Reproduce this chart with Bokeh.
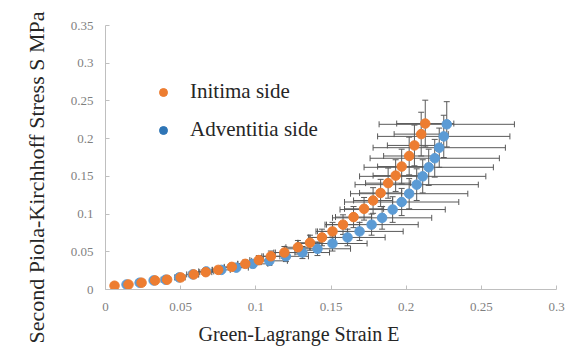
import math
from bokeh.plotting import figure
from bokeh.models import (ColumnDataSource, Whisker, TeeHead, FixedTicker, Legend,
                          LegendItem, Range1d, Title)
from bokeh.embed import file_html
from bokeh.resources import INLINE

# ---- data ----
intima_strain = [0.006, 0.0153, 0.024, 0.033, 0.041, 0.050, 0.0587, 0.0667, 0.075, 0.084,
                 0.093, 0.102, 0.110, 0.119, 0.128, 0.136, 0.144, 0.151, 0.158, 0.165,
                 0.172, 0.178, 0.183, 0.188, 0.193, 0.197, 0.202, 0.2055, 0.210, 0.2127]
intima_stress = [0.005, 0.0066, 0.009, 0.012, 0.013, 0.016, 0.020, 0.023, 0.026, 0.030,
                 0.034, 0.039, 0.044, 0.049, 0.056, 0.062, 0.069, 0.077, 0.086, 0.096,
                 0.107, 0.118, 0.128, 0.141, 0.151, 0.163, 0.177, 0.191, 0.206, 0.220]
intima_strain_err = [0.001, 0.001, 0.002, 0.002, 0.002, 0.003, 0.003, 0.004, 0.004, 0.005,
                     0.005, 0.006, 0.006, 0.007, 0.008, 0.008, 0.009, 0.010, 0.011, 0.012,
                     0.013, 0.013, 0.014, 0.015, 0.015, 0.016, 0.017, 0.018, 0.018, 0.019]
intima_stress_err = [0.001, 0.001, 0.001, 0.002, 0.002, 0.002, 0.003, 0.003, 0.004, 0.004,
                     0.005, 0.006, 0.007, 0.008, 0.009, 0.010, 0.011, 0.012, 0.013, 0.014,
                     0.015, 0.017, 0.018, 0.020, 0.021, 0.023, 0.025, 0.027, 0.029, 0.031]

advent_strain = [0.014, 0.0227, 0.032, 0.040, 0.049, 0.058, 0.067, 0.077, 0.087, 0.098,
                 0.109, 0.120, 0.131, 0.141, 0.151, 0.161, 0.169, 0.177, 0.184, 0.191,
                 0.197, 0.202, 0.207, 0.211, 0.215, 0.219, 0.222, 0.225, 0.227]
advent_stress = [0.0066, 0.009, 0.012, 0.013, 0.016, 0.020, 0.024, 0.026, 0.029, 0.034,
                 0.038, 0.044, 0.049, 0.054, 0.061, 0.069, 0.077, 0.086, 0.095, 0.106,
                 0.116, 0.127, 0.139, 0.150, 0.162, 0.174, 0.188, 0.203, 0.219]
advent_strain_err = [0.001, 0.002, 0.002, 0.003, 0.003, 0.004, 0.005, 0.006, 0.008, 0.010,
                     0.012, 0.015, 0.018, 0.022, 0.023, 0.025, 0.029, 0.031, 0.033, 0.035,
                     0.038, 0.039, 0.041, 0.042, 0.043, 0.043, 0.044, 0.044, 0.045]
advent_stress_err = [0.001, 0.001, 0.001, 0.002, 0.002, 0.002, 0.003, 0.003, 0.004, 0.005,
                     0.006, 0.007, 0.008, 0.009, 0.010, 0.011, 0.012, 0.014, 0.015, 0.017,
                     0.018, 0.020, 0.021, 0.022, 0.024, 0.025, 0.026, 0.028, 0.030]

x_ticks = [0, 0.05, 0.1, 0.15, 0.2, 0.25, 0.3]
x_tick_labels = ["0", "0.05", "0.1", "0.15", "0.2", "0.25", "0.3"]
y_ticks = [0, 0.05, 0.1, 0.15, 0.2, 0.25, 0.3, 0.35]
y_tick_labels = ["0", "0.05", "0.1", "0.15", "0.2", "0.25", "0.3", "0.35"]

series_names = ["Initima side", "Adventitia side"]
x_title = "Green-Lagrange Strain E"
y_title = "Second Piola-Kirchhoff Stress S MPa"

orange = "#ED7D31"
blue = "#5B9BD5"
err_color = "#595959"
serif = "Liberation Serif"


def make_source(xs, ys, xe, ye):
    return ColumnDataSource(dict(
        x=xs, y=ys,
        xl=[a - b for a, b in zip(xs, xe)], xu=[a + b for a, b in zip(xs, xe)],
        yl=[a - b for a, b in zip(ys, ye)], yu=[a + b for a, b in zip(ys, ye)],
    ))


src_i = make_source(intima_strain, intima_stress, intima_strain_err, intima_stress_err)
src_a = make_source(advent_strain, advent_stress, advent_strain_err, advent_stress_err)

p = figure(width=573, height=351, output_backend="svg", toolbar_location=None,
           x_range=Range1d(0, 0.3), y_range=Range1d(0, 0.35),
           min_border_left=105, min_border_right=17, min_border_top=25, min_border_bottom=62)
p.outline_line_color = None
p.xgrid.visible = False
p.ygrid.visible = False
p.background_fill_color = "white"
p.border_fill_color = "white"

for src in (src_a, src_i):
    p.add_layout(Whisker(source=src, base="x", lower="yl", upper="yu", dimension="height",
                         line_color=err_color, line_width=1, level="underlay",
                         upper_head=TeeHead(size=6, line_color=err_color, line_width=1),
                         lower_head=TeeHead(size=6, line_color=err_color, line_width=1)))
    p.add_layout(Whisker(source=src, base="y", lower="xl", upper="xu", dimension="width",
                         line_color=err_color, line_width=1, level="underlay",
                         upper_head=TeeHead(size=6, line_color=err_color, line_width=1),
                         lower_head=TeeHead(size=6, line_color=err_color, line_width=1)))

p.scatter("x", "y", source=src_a, size=9.5, color=blue, line_color=blue)
p.scatter("x", "y", source=src_i, size=9.5, color=orange, line_color=orange)

# legend-only markers (smaller, as in the reference); NaN point draws nothing in the plot
nan_src = ColumnDataSource(dict(x=[math.nan], y=[math.nan]))
leg_i = p.scatter("x", "y", source=nan_src, size=7, color=orange)
leg_a = p.scatter("x", "y", source=nan_src, size=7, color="#2E75B6")
legend = Legend(items=[LegendItem(label=series_names[0], renderers=[leg_i]),
                       LegendItem(label=series_names[1], renderers=[leg_a])],
                location=(48, 147), orientation="vertical",
                label_text_font=serif, label_text_font_size="21px", label_text_color="#262626",
                glyph_width=20, glyph_height=20, label_height=20, label_standoff=17,
                spacing=13, padding=0, margin=0,
                border_line_alpha=0, background_fill_alpha=0)
p.add_layout(legend)

for ax in (p.xaxis[0], p.yaxis[0]):
    ax.axis_line_color = "#BFBFBF"
    ax.axis_line_width = 1
    ax.major_tick_line_color = "#BFBFBF"
    ax.major_tick_in = 4
    ax.major_tick_out = 0
    ax.minor_tick_line_color = None
    ax.major_label_text_font = serif
    ax.major_label_text_font_size = "13px"
    ax.major_label_text_color = "#7F7F7F"

p.xaxis.ticker = FixedTicker(ticks=x_ticks)
p.xaxis.major_label_overrides = dict(zip(x_ticks, x_tick_labels))
p.xaxis.major_label_standoff = 13
p.yaxis.ticker = FixedTicker(ticks=y_ticks)
p.yaxis.major_label_standoff = 12
p.yaxis.major_label_overrides = dict(zip(y_ticks, y_tick_labels))

# axis titles as side titles, shifted off the frame centre as in the reference
p.add_layout(Title(text=x_title, align="left", offset=93, text_font=serif,
                   text_font_size="20px", text_font_style="normal", text_color="#262626",
                   standoff=14), "below")
p.add_layout(Title(text=y_title, align="left", offset=-54, text_font=serif,
                   text_font_size="22px", text_font_style="normal", text_color="#262626",
                   standoff=38), "left")

open("out.html", "w").write(file_html(p, INLINE))
